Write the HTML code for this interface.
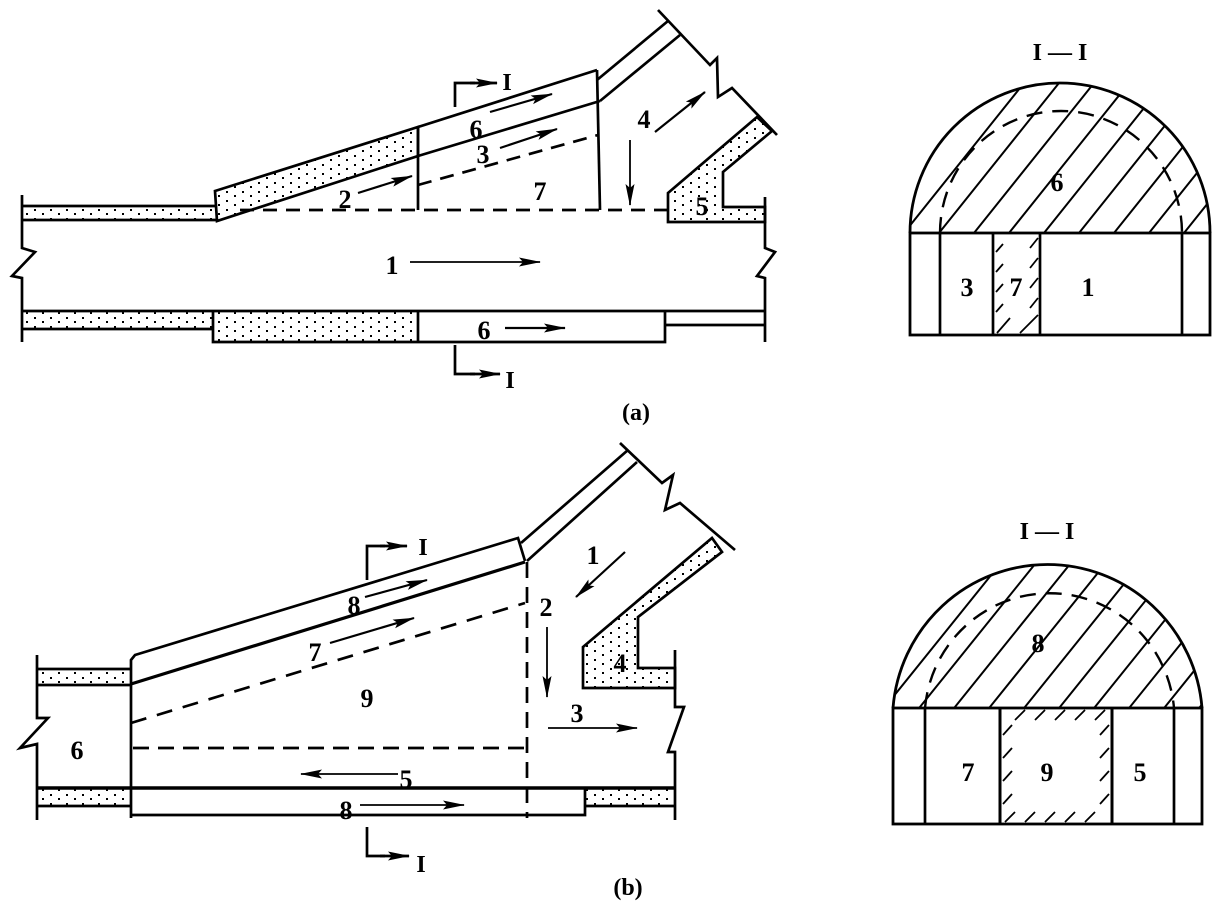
<!DOCTYPE html>
<html><head><meta charset="utf-8"><style>
html,body{margin:0;padding:0;background:#fff;}
svg{display:block;}
text{font-family:"Liberation Serif",serif;font-weight:bold;fill:#000;}
</style></head><body>
<svg width="1224" height="907" viewBox="0 0 1224 907" xmlns="http://www.w3.org/2000/svg">
<defs>
<pattern id="dots" width="16" height="9" patternUnits="userSpaceOnUse">
<rect x="2" y="2" width="2" height="2" fill="#000"/>
<rect x="10" y="6" width="2" height="2" fill="#000"/>
</pattern>
<marker id="ar2" markerWidth="22" markerHeight="10" refX="21" refY="5" orient="auto" markerUnits="userSpaceOnUse" viewBox="0 0 22 10">
<path d="M0,0.5 L22,5 L0,9.5 L4,5 Z" fill="#000"/>
</marker>
<clipPath id="archA"><path d="M910,233 A150,150 0 0 1 1210,233 Z"/></clipPath>
<clipPath id="archB"><path d="M893,708 A155,156 0 0 1 1202,708 Z"/></clipPath>
</defs>
<g stroke="#000" fill="none" stroke-width="2.7" stroke-linejoin="miter">
<!-- ===== (a) ===== -->
<rect x="22" y="206" width="194" height="14" fill="url(#dots)" stroke="none"/>
<polyline points="22,195 22,248 35,252 12,276 22,278 22,342"/>
<line x1="22" y1="206" x2="215" y2="206"/>
<line x1="22" y1="220" x2="217" y2="220"/>
<polygon points="215,191 418,127 418,156 217,221" fill="url(#dots)"/>
<line x1="418" y1="127" x2="597" y2="70"/>
<line x1="418" y1="156" x2="600" y2="101"/>
<line x1="597" y1="70" x2="600" y2="210"/>
<line x1="418" y1="127" x2="418" y2="210"/>
<line x1="418" y1="185" x2="598" y2="135" stroke-dasharray="14,9"/>
<line x1="240" y1="210" x2="668" y2="210" stroke-dasharray="14,9"/>
<line x1="597" y1="80" x2="668" y2="21"/>
<line x1="600" y1="101" x2="680" y2="35"/>
<polyline points="658,10 710,65 717,58 718,97 732,88 777,135"/>
<polygon points="668,193 757,117 772,131 723,172 723,207 765,207 765,222 668,222" fill="url(#dots)"/>
<polyline points="765,197 765,248 775,252 757,276 765,278 765,342"/>
<line x1="22" y1="311" x2="765" y2="311"/>
<rect x="22" y="312" width="191" height="17" fill="url(#dots)" stroke="none"/>
<line x1="22" y1="329" x2="213" y2="329"/>
<polyline points="213,311 213,342 665,342 665,311"/>
<rect x="213" y="312" width="205" height="30" fill="url(#dots)" stroke="none"/>
<line x1="418" y1="311" x2="418" y2="342"/>
<line x1="665" y1="325" x2="765" y2="325"/>
<!-- arrows (a) -->
<line x1="490" y1="112" x2="552" y2="94" stroke-width="2.2" marker-end="url(#ar2)"/>
<line x1="500" y1="148" x2="557" y2="129" stroke-width="2.2" marker-end="url(#ar2)"/>
<line x1="358" y1="193" x2="412" y2="176" stroke-width="2.2" marker-end="url(#ar2)"/>
<line x1="655" y1="132" x2="705" y2="92" stroke-width="2.2" marker-end="url(#ar2)"/>
<line x1="630" y1="140" x2="630" y2="205" stroke-width="1.8" marker-end="url(#ar2)"/>
<line x1="410" y1="262" x2="540" y2="262" stroke-width="1.8" marker-end="url(#ar2)"/>
<line x1="505" y1="328" x2="565" y2="328" stroke-width="2.2" marker-end="url(#ar2)"/>
<polyline points="455,107 455,83 475,83"/>
<line x1="470" y1="83" x2="497" y2="83" marker-end="url(#ar2)"/>
<polyline points="455,345 455,374 475,374"/>
<line x1="470" y1="374" x2="500" y2="374" marker-end="url(#ar2)"/>

<!-- ===== (b) ===== -->
<rect x="37" y="669" width="94" height="16" fill="url(#dots)" stroke="none"/>
<polyline points="37,655 37,718 48,718 20,748 37,744 37,820"/>
<line x1="37" y1="669" x2="131" y2="669"/>
<line x1="37" y1="685" x2="131" y2="685"/>
<polyline points="131,818 131,660 135,655 518,538 525,561"/>
<line x1="131" y1="684" x2="525" y2="562" stroke-width="3.2"/>
<line x1="131" y1="723" x2="525" y2="603" stroke-dasharray="16,11"/>
<line x1="133" y1="748" x2="527" y2="748" stroke-dasharray="16,9"/>
<line x1="527" y1="562" x2="527" y2="818" stroke-dasharray="16,9"/>
<line x1="37" y1="788" x2="675" y2="788" stroke-width="3.4"/>
<rect x="37" y="789" width="94" height="17" fill="url(#dots)" stroke="none"/>
<line x1="37" y1="806" x2="131" y2="806"/>
<polyline points="131,815 585,815 585,788"/>
<rect x="586" y="789" width="89" height="17" fill="url(#dots)" stroke="none"/>
<line x1="585" y1="806" x2="675" y2="806"/>
<line x1="521" y1="543" x2="628" y2="450"/>
<line x1="527" y1="561" x2="637" y2="462"/>
<polyline points="620,443 662,483 673,475 665,510 680,503 735,550"/>
<polygon points="583,647 712,538 722,552 638,617 638,668 675,668 675,688 583,688" fill="url(#dots)"/>
<polyline points="675,650 675,707 684,707 668,752 675,752 675,820"/>
<line x1="365" y1="597" x2="427" y2="580" stroke-width="2.2" marker-end="url(#ar2)"/>
<line x1="330" y1="643" x2="414" y2="618" stroke-width="2.2" marker-end="url(#ar2)"/>
<line x1="625" y1="552" x2="576" y2="597" stroke-width="2.2" marker-end="url(#ar2)"/>
<line x1="547" y1="627" x2="547" y2="697" stroke-width="1.8" marker-end="url(#ar2)"/>
<line x1="548" y1="728" x2="637" y2="728" stroke-width="1.8" marker-end="url(#ar2)"/>
<line x1="398" y1="774" x2="301" y2="774" stroke-width="1.8" marker-end="url(#ar2)"/>
<line x1="360" y1="805" x2="464" y2="805" stroke-width="1.8" marker-end="url(#ar2)"/>
<polyline points="367,580 367,546 385,546"/>
<line x1="380" y1="546" x2="407" y2="546" marker-end="url(#ar2)"/>
<polyline points="367,827 367,856 385,856"/>
<line x1="380" y1="856" x2="409" y2="856" marker-end="url(#ar2)"/>

<!-- ===== Section I-I (a) ===== -->
<g clip-path="url(#archA)" stroke-width="2">
<line x1="880" y1="263" x2="1040" y2="63"/>
<line x1="915" y1="263" x2="1075" y2="63"/>
<line x1="950" y1="263" x2="1110" y2="63"/>
<line x1="985" y1="263" x2="1145" y2="63"/>
<line x1="1020" y1="263" x2="1180" y2="63"/>
<line x1="1055" y1="263" x2="1215" y2="63"/>
<line x1="1090" y1="263" x2="1250" y2="63"/>
<line x1="1125" y1="263" x2="1285" y2="63"/>
<line x1="1160" y1="263" x2="1320" y2="63"/>
<line x1="1195" y1="263" x2="1355" y2="63"/>
</g>
<path d="M910,233 A150,150 0 0 1 1210,233" stroke-width="2.8"/>
<path d="M940,233 A121,122 0 0 1 1182,233" stroke-width="2.4" stroke-dasharray="16,10"/>
<rect x="910" y="233" width="300" height="102" stroke-width="2.8"/>
<line x1="940" y1="233" x2="940" y2="335"/>
<line x1="993" y1="233" x2="993" y2="335"/>
<line x1="1040" y1="233" x2="1040" y2="335"/>
<line x1="1182" y1="233" x2="1182" y2="335"/>
<g stroke-width="1.8">
<line x1="996" y1="252" x2="1003" y2="244"/><line x1="996" y1="272" x2="1003" y2="264"/><line x1="996" y1="292" x2="1003" y2="284"/><line x1="996" y1="312" x2="1003" y2="304"/><line x1="997" y1="333" x2="1010" y2="318"/>
<line x1="1030" y1="248" x2="1038" y2="238"/><line x1="1030" y1="268" x2="1038" y2="258"/><line x1="1030" y1="288" x2="1038" y2="278"/><line x1="1030" y1="308" x2="1038" y2="298"/><line x1="1020" y1="333" x2="1038" y2="315"/>
</g>

<!-- ===== Section I-I (b) ===== -->
<g clip-path="url(#archB)" stroke-width="2">
<line x1="860" y1="738" x2="1025" y2="533"/>
<line x1="895" y1="738" x2="1060" y2="533"/>
<line x1="930" y1="738" x2="1095" y2="533"/>
<line x1="965" y1="738" x2="1130" y2="533"/>
<line x1="1000" y1="738" x2="1165" y2="533"/>
<line x1="1035" y1="738" x2="1200" y2="533"/>
<line x1="1070" y1="738" x2="1235" y2="533"/>
<line x1="1105" y1="738" x2="1270" y2="533"/>
<line x1="1140" y1="738" x2="1305" y2="533"/>
<line x1="1175" y1="738" x2="1340" y2="533"/>
</g>
<path d="M893,708 A155,156 0 0 1 1202,708" stroke-width="2.8"/>
<path d="M925,708 A125,126 0 0 1 1174,708" stroke-width="2.4" stroke-dasharray="16,10"/>
<rect x="893" y="708" width="309" height="116" stroke-width="2.8"/>
<line x1="925" y1="708" x2="925" y2="824"/>
<line x1="1000" y1="708" x2="1000" y2="824" stroke-width="3"/>
<line x1="1112" y1="708" x2="1112" y2="824" stroke-width="3"/>
<line x1="1174" y1="708" x2="1174" y2="824"/>
<g stroke-width="1.8">
<line x1="1003" y1="735" x2="1012" y2="725"/><line x1="1003" y1="758" x2="1012" y2="748"/><line x1="1003" y1="781" x2="1012" y2="771"/><line x1="1003" y1="804" x2="1012" y2="794"/>
<line x1="1100" y1="735" x2="1109" y2="725"/><line x1="1100" y1="758" x2="1109" y2="748"/><line x1="1100" y1="781" x2="1109" y2="771"/><line x1="1100" y1="804" x2="1109" y2="794"/>
<line x1="1015" y1="720" x2="1025" y2="710"/><line x1="1035" y1="720" x2="1045" y2="710"/><line x1="1055" y1="720" x2="1065" y2="710"/><line x1="1075" y1="720" x2="1085" y2="710"/><line x1="1095" y1="720" x2="1105" y2="710"/>
<line x1="1005" y1="822" x2="1015" y2="812"/><line x1="1025" y1="822" x2="1035" y2="812"/><line x1="1045" y1="822" x2="1055" y2="812"/><line x1="1065" y1="822" x2="1075" y2="812"/><line x1="1085" y1="822" x2="1095" y2="812"/>
</g>
</g>

<!-- labels -->
<g font-size="26" text-anchor="middle">
<text x="476" y="138">6</text>
<text x="483" y="163">3</text>
<text x="345" y="208">2</text>
<text x="540" y="200">7</text>
<text x="644" y="128">4</text>
<text x="702" y="215">5</text>
<text x="392" y="274">1</text>
<text x="484" y="339">6</text>
<text x="507" y="90" font-size="24">I</text>
<text x="510" y="388" font-size="24">I</text>
<text x="636" y="420" font-weight="normal" font-size="24">(a)</text>

<text x="354" y="614">8</text>
<text x="315" y="661">7</text>
<text x="367" y="707">9</text>
<text x="77" y="759">6</text>
<text x="546" y="616">2</text>
<text x="593" y="564">1</text>
<text x="577" y="722">3</text>
<text x="620" y="672">4</text>
<text x="406" y="788">5</text>
<text x="346" y="819">8</text>
<text x="423" y="555" font-size="24">I</text>
<text x="421" y="872" font-size="24">I</text>
<text x="628" y="895" font-weight="normal" font-size="24">(b)</text>

<text x="1060" y="60" font-size="24">I — I</text>
<text x="1057" y="191">6</text>
<text x="967" y="296">3</text>
<text x="1016" y="296">7</text>
<text x="1088" y="296">1</text>

<text x="1047" y="539" font-size="24">I — I</text>
<text x="1038" y="652">8</text>
<text x="968" y="781">7</text>
<text x="1047" y="781">9</text>
<text x="1140" y="781">5</text>
</g>
</svg>
</body></html>
